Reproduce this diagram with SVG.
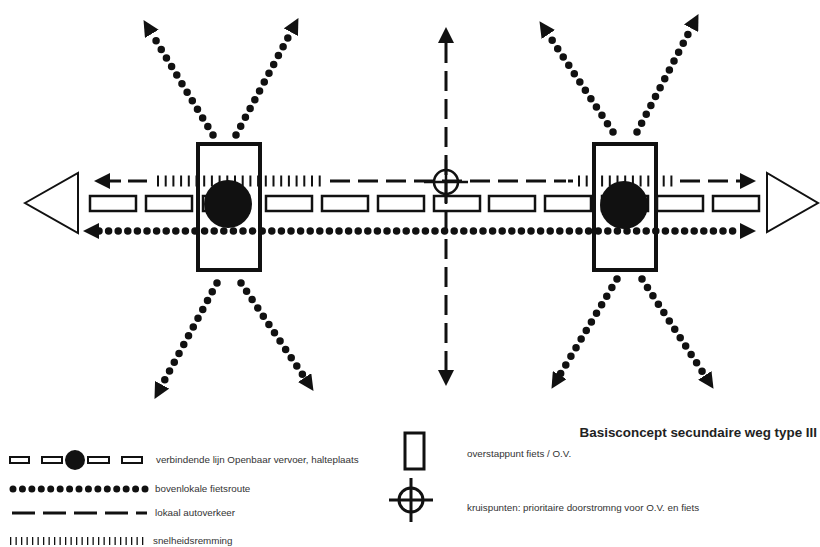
<svg xmlns="http://www.w3.org/2000/svg" width="820" height="547" viewBox="0 0 820 547">
<defs>
<marker id="arr" viewBox="0 0 16 16" refX="0" refY="8" markerWidth="16" markerHeight="16" markerUnits="userSpaceOnUse" orient="auto-start-reverse">
<path d="M0,0 L16,8 L0,16 z" fill="#111"/>
</marker>
</defs>
<style>
.dots{fill:none;stroke:#111;stroke-width:7.5;stroke-linecap:round;stroke-dasharray:0 10}
.dash{fill:none;stroke:#111;stroke-width:3;stroke-dasharray:20 8}
.ticks{fill:none;stroke:#111;stroke-width:11;stroke-dasharray:2 5.7}
.rail{fill:#fff;stroke:#111;stroke-width:2.5}
.box{fill:none;stroke:#111;stroke-width:4}
.tri{fill:#fff;stroke:#111;stroke-width:2}
.cross{fill:none;stroke:#111;stroke-width:2.5}
.lbl{font-family:"Liberation Sans",Arial,sans-serif;font-size:9.8px;fill:#333}
.title{font-family:"Liberation Sans",Arial,sans-serif;font-size:13.4px;font-weight:bold;fill:#222}
</style>
<rect width="820" height="547" fill="#fff"/>

<g id="triangle-left"><polygon class="tri" points="25,203 78,173 78,233"/></g>
<g id="triangle-right"><polygon class="tri" points="767,173 767,232 818,203"/></g>

<g id="ov-line">
<rect class="rail" x="90" y="196" width="46" height="15"/>
<rect class="rail" x="146" y="196" width="46" height="15"/>
<rect class="rail" x="203" y="196" width="46" height="15"/>
<rect class="rail" x="266" y="196" width="46" height="15"/>
<rect class="rail" x="322" y="196" width="46" height="15"/>
<rect class="rail" x="378" y="196" width="46" height="15"/>
<rect class="rail" x="434" y="196" width="46" height="15"/>
<rect class="rail" x="489" y="196" width="46" height="15"/>
<rect class="rail" x="545" y="196" width="46" height="15"/>
<rect class="rail" x="602" y="196" width="46" height="15"/>
<rect class="rail" x="657" y="196" width="46" height="15"/>
<rect class="rail" x="713" y="196" width="46" height="15"/>
</g>

<g id="connectors">
<path class="dots" d="M99,231 H740" style="stroke-dasharray:0 9.6" marker-start="url(#arr)" marker-end="url(#arr)"/>
<path d="M110,181 H121 M128,181 H147" fill="none" stroke="#111" stroke-width="3" marker-start="url(#arr)"/>
<path class="ticks" d="M157,181 H324"/>
<path class="dash" d="M330,181 H566"/>
<path d="M568,181 H573" fill="none" stroke="#111" stroke-width="3"/>
<path class="ticks" d="M578,181 H677"/>
<path class="dash" d="M680,181 H740" marker-end="url(#arr)"/>
<path class="dash" d="M446,43 V370" marker-start="url(#arr)" marker-end="url(#arr)"/>
<path class="dots" d="M213,135 L151.8,33.8" marker-end="url(#arr)"/>
<path class="dots" d="M236,135 L290.9,32.2" marker-end="url(#arr)"/>
<path class="dots" d="M217,283 L162.1,384.8" marker-end="url(#arr)"/>
<path class="dots" d="M241,283 L304.6,377.6" marker-end="url(#arr)"/>
<path class="dots" d="M613,132 L548.3,34.5" marker-end="url(#arr)"/>
<path class="dots" d="M637,132 L691.1,28.3" marker-end="url(#arr)"/>
<path class="dots" d="M617,279 L559.7,375.1" marker-end="url(#arr)"/>
<path class="dots" d="M642,279 L704.8,375.4" marker-end="url(#arr)"/>
</g>

<g id="stop-left">
<circle cx="228" cy="204" r="24" fill="#111"/>
<rect class="box" x="198" y="144" width="62" height="126"/>
</g>
<g id="stop-right">
<circle cx="624" cy="205" r="24" fill="#111"/>
<rect class="box" x="594" y="144" width="62" height="126"/>
</g>
<g id="crossing">
<circle class="cross" cx="446" cy="182" r="12"/>
<path class="cross" d="M424,182 H468 M446,160 V204"/>
</g>

<g id="legend">
<text class="title" x="817" y="437" text-anchor="end">Basisconcept secundaire weg type III</text>
<g id="legend-ov">
<rect x="10" y="457" width="19" height="6" fill="#fff" stroke="#111" stroke-width="2"/>
<rect x="42" y="457" width="20" height="6" fill="#fff" stroke="#111" stroke-width="2"/>
<rect x="88" y="457" width="21" height="6" fill="#fff" stroke="#111" stroke-width="2"/>
<rect x="122" y="457" width="20" height="6" fill="#fff" stroke="#111" stroke-width="2"/>
<circle cx="75" cy="460" r="10" fill="#111"/>
<text class="lbl" x="156" y="463">verbindende lijn Openbaar vervoer, halteplaats</text>
</g>
<g id="legend-fiets">
<path class="dots" d="M13,489 H146" style="stroke-dasharray:0 9.43;stroke-width:7"/>
<text class="lbl" x="155" y="492">bovenlokale fietsroute</text>
</g>
<g id="legend-auto">
<path d="M12,513 H147" fill="none" stroke="#111" stroke-width="3" stroke-dasharray="23 8"/>
<text class="lbl" x="155" y="516">lokaal autoverkeer</text>
</g>
<g id="legend-remming">
<path d="M10,541 H145" fill="none" stroke="#111" stroke-width="8" stroke-dasharray="1.3 4.2"/>
<text class="lbl" x="153" y="544">snelheidsremming</text>
</g>
<g id="legend-overstap">
<rect x="405" y="433" width="19" height="36" fill="none" stroke="#111" stroke-width="3"/>
<text class="lbl" x="467" y="457">overstappunt fiets / O.V.</text>
</g>
<g id="legend-kruispunt">
<circle cx="411" cy="500" r="12" fill="none" stroke="#111" stroke-width="3"/>
<path d="M389,500 H433 M411,478 V522" fill="none" stroke="#111" stroke-width="3"/>
<text class="lbl" x="467" y="511">kruispunten: prioritaire doorstromng voor O.V. en fiets</text>
</g>
</g>
</svg>
